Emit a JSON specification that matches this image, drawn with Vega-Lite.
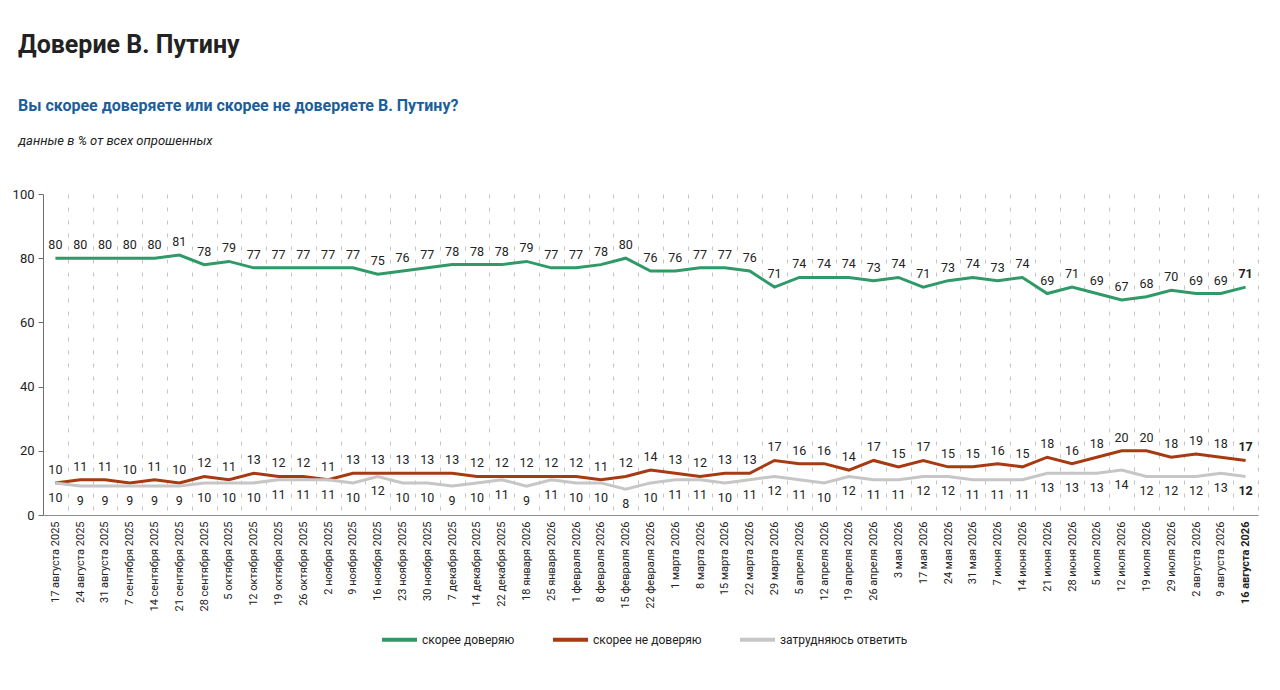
{
  "$schema": "https://vega.github.io/schema/vega-lite/v6.json",
  "autosize": {"type": "none"},
  "width": 1215,
  "height": 321,
  "padding": {"left": 43, "top": 194, "right": 22, "bottom": 175},
  "background": "white",
  "title": {
    "text": "Доверие В. Путину",
    "subtitle": "Вы скорее доверяете или скорее не доверяете В. Путину?",
    "anchor": "start",
    "frame": "group",
    "dx": -25,
    "offset": 20,
    "font": "Roboto, sans-serif",
    "fontSize": 25,
    "fontWeight": "bold",
    "color": "#222222",
    "subtitleFont": "Roboto, sans-serif",
    "subtitleFontSize": 16,
    "subtitleFontWeight": "bold",
    "subtitleColor": "#1b5e9c",
    "subtitlePadding": 40
  },
  "data": {
    "values": [
      {"date": "17 августа 2025", "скорее доверяю": 80, "скорее не доверяю": 10, "затрудняюсь ответить": 10},
      {"date": "24 августа 2025", "скорее доверяю": 80, "скорее не доверяю": 11, "затрудняюсь ответить": 9},
      {"date": "31 августа 2025", "скорее доверяю": 80, "скорее не доверяю": 11, "затрудняюсь ответить": 9},
      {"date": "7 сентября 2025", "скорее доверяю": 80, "скорее не доверяю": 10, "затрудняюсь ответить": 9},
      {"date": "14 сентября 2025", "скорее доверяю": 80, "скорее не доверяю": 11, "затрудняюсь ответить": 9},
      {"date": "21 сентября 2025", "скорее доверяю": 81, "скорее не доверяю": 10, "затрудняюсь ответить": 9},
      {"date": "28 сентября 2025", "скорее доверяю": 78, "скорее не доверяю": 12, "затрудняюсь ответить": 10},
      {"date": "5 октября 2025", "скорее доверяю": 79, "скорее не доверяю": 11, "затрудняюсь ответить": 10},
      {"date": "12 октября 2025", "скорее доверяю": 77, "скорее не доверяю": 13, "затрудняюсь ответить": 10},
      {"date": "19 октября 2025", "скорее доверяю": 77, "скорее не доверяю": 12, "затрудняюсь ответить": 11},
      {"date": "26 октября 2025", "скорее доверяю": 77, "скорее не доверяю": 12, "затрудняюсь ответить": 11},
      {"date": "2 ноября 2025", "скорее доверяю": 77, "скорее не доверяю": 11, "затрудняюсь ответить": 11},
      {"date": "9 ноября 2025", "скорее доверяю": 77, "скорее не доверяю": 13, "затрудняюсь ответить": 10},
      {"date": "16 ноября 2025", "скорее доверяю": 75, "скорее не доверяю": 13, "затрудняюсь ответить": 12},
      {"date": "23 ноября 2025", "скорее доверяю": 76, "скорее не доверяю": 13, "затрудняюсь ответить": 10},
      {"date": "30 ноября 2025", "скорее доверяю": 77, "скорее не доверяю": 13, "затрудняюсь ответить": 10},
      {"date": "7 декабря 2025", "скорее доверяю": 78, "скорее не доверяю": 13, "затрудняюсь ответить": 9},
      {"date": "14 декабря 2025", "скорее доверяю": 78, "скорее не доверяю": 12, "затрудняюсь ответить": 10},
      {"date": "22 декабря 2025", "скорее доверяю": 78, "скорее не доверяю": 12, "затрудняюсь ответить": 11},
      {"date": "18 января 2026", "скорее доверяю": 79, "скорее не доверяю": 12, "затрудняюсь ответить": 9},
      {"date": "25 января 2026", "скорее доверяю": 77, "скорее не доверяю": 12, "затрудняюсь ответить": 11},
      {"date": "1 февраля 2026", "скорее доверяю": 77, "скорее не доверяю": 12, "затрудняюсь ответить": 10},
      {"date": "8 февраля 2026", "скорее доверяю": 78, "скорее не доверяю": 11, "затрудняюсь ответить": 10},
      {"date": "15 февраля 2026", "скорее доверяю": 80, "скорее не доверяю": 12, "затрудняюсь ответить": 8},
      {"date": "22 февраля 2026", "скорее доверяю": 76, "скорее не доверяю": 14, "затрудняюсь ответить": 10},
      {"date": "1 марта 2026", "скорее доверяю": 76, "скорее не доверяю": 13, "затрудняюсь ответить": 11},
      {"date": "8 марта 2026", "скорее доверяю": 77, "скорее не доверяю": 12, "затрудняюсь ответить": 11},
      {"date": "15 марта 2026", "скорее доверяю": 77, "скорее не доверяю": 13, "затрудняюсь ответить": 10},
      {"date": "22 марта 2026", "скорее доверяю": 76, "скорее не доверяю": 13, "затрудняюсь ответить": 11},
      {"date": "29 марта 2026", "скорее доверяю": 71, "скорее не доверяю": 17, "затрудняюсь ответить": 12},
      {"date": "5 апреля 2026", "скорее доверяю": 74, "скорее не доверяю": 16, "затрудняюсь ответить": 11},
      {"date": "12 апреля 2026", "скорее доверяю": 74, "скорее не доверяю": 16, "затрудняюсь ответить": 10},
      {"date": "19 апреля 2026", "скорее доверяю": 74, "скорее не доверяю": 14, "затрудняюсь ответить": 12},
      {"date": "26 апреля 2026", "скорее доверяю": 73, "скорее не доверяю": 17, "затрудняюсь ответить": 11},
      {"date": "3 мая 2026", "скорее доверяю": 74, "скорее не доверяю": 15, "затрудняюсь ответить": 11},
      {"date": "17 мая 2026", "скорее доверяю": 71, "скорее не доверяю": 17, "затрудняюсь ответить": 12},
      {"date": "24 мая 2026", "скорее доверяю": 73, "скорее не доверяю": 15, "затрудняюсь ответить": 12},
      {"date": "31 мая 2026", "скорее доверяю": 74, "скорее не доверяю": 15, "затрудняюсь ответить": 11},
      {"date": "7 июня 2026", "скорее доверяю": 73, "скорее не доверяю": 16, "затрудняюсь ответить": 11},
      {"date": "14 июня 2026", "скорее доверяю": 74, "скорее не доверяю": 15, "затрудняюсь ответить": 11},
      {"date": "21 июня 2026", "скорее доверяю": 69, "скорее не доверяю": 18, "затрудняюсь ответить": 13},
      {"date": "28 июня 2026", "скорее доверяю": 71, "скорее не доверяю": 16, "затрудняюсь ответить": 13},
      {"date": "5 июля 2026", "скорее доверяю": 69, "скорее не доверяю": 18, "затрудняюсь ответить": 13},
      {"date": "12 июля 2026", "скорее доверяю": 67, "скорее не доверяю": 20, "затрудняюсь ответить": 14},
      {"date": "19 июля 2026", "скорее доверяю": 68, "скорее не доверяю": 20, "затрудняюсь ответить": 12},
      {"date": "29 июля 2026", "скорее доверяю": 70, "скорее не доверяю": 18, "затрудняюсь ответить": 12},
      {"date": "2 августа 2026", "скорее доверяю": 69, "скорее не доверяю": 19, "затрудняюсь ответить": 12},
      {"date": "9 августа 2026", "скорее доверяю": 69, "скорее не доверяю": 18, "затрудняюсь ответить": 13},
      {"date": "16 августа 2026", "скорее доверяю": 71, "скорее не доверяю": 17, "затрудняюсь ответить": 12}
    ]
  },
  "transform": [
    {"fold": ["скорее доверяю", "скорее не доверяю", "затрудняюсь ответить"], "as": ["series", "value"]}
  ],
  "encoding": {
    "x": {
      "field": "date",
      "type": "nominal",
      "sort": null,
      "scale": {"type": "band", "paddingInner": 0, "paddingOuter": 0},
      "axis": {
        "title": null,
        "labelAngle": -90,
        "labelFontSize": 11,
        "labelColor": "#222222",
        "labelPadding": 6,
        "labelFontWeight": {"condition": {"test": "datum.value == '16 августа 2026'", "value": "bold"}, "value": "normal"},
        "ticks": false,
        "domainColor": "#8c8c8c",
        "tickBand": "extent",
        "grid": true,
        "gridColor": "#c4c4c4",
        "gridDash": [4, 9],
        "gridWidth": 1
      }
    },
    "y": {
      "field": "value",
      "type": "quantitative",
      "scale": {"domain": [0, 100]},
      "axis": {
        "values": [0, 20, 40, 60, 80, 100],
        "grid": false,
        "labelFontSize": 13,
        "labelColor": "#222222",
        "labelPadding": 4,
        "tickSize": 5,
        "tickColor": "#6e6e6e",
        "domainColor": "#6e6e6e",
        "title": "данные в % от всех опрошенных",
        "titleAngle": 0,
        "titleAlign": "left",
        "titleBaseline": "middle",
        "titleX": -25,
        "titleY": -54,
        "titleFontSize": 13,
        "titleFontStyle": "italic",
        "titleFontWeight": "normal",
        "titleColor": "#222222"
      }
    }
  },
  "layer": [
    {
      "mark": {"type": "line", "strokeWidth": 3},
      "encoding": {
        "color": {
          "field": "series",
          "type": "nominal",
          "scale": {
            "domain": ["скорее доверяю", "скорее не доверяю", "затрудняюсь ответить"],
            "range": ["#2f9a67", "#a63b12", "#c6c6c6"]
          },
          "legend": {
            "title": null,
            "orient": "none",
            "legendX": 337,
            "legendY": 426,
            "direction": "horizontal",
            "symbolType": "stroke",
            "symbolSize": 1225,
            "symbolStrokeWidth": 4,
            "labelFontSize": 12,
            "labelColor": "#222222",
            "labelOffset": 3,
            "columnPadding": 30
          }
        }
      }
    },
    {
      "transform": [{"filter": "datum.series != 'затрудняюсь ответить'"}],
      "mark": {
        "type": "text",
        "dy": -13,
        "fontSize": 12.5,
        "color": "#222222",
        "fontWeight": {"expr": "datum.date == '16 августа 2026' ? 'bold' : 'normal'"}
      },
      "encoding": {"text": {"field": "value", "type": "quantitative"}}
    },
    {
      "transform": [{"filter": "datum.series == 'затрудняюсь ответить'"}],
      "mark": {
        "type": "text",
        "dy": 15,
        "fontSize": 12.5,
        "color": "#222222",
        "fontWeight": {"expr": "datum.date == '16 августа 2026' ? 'bold' : 'normal'"}
      },
      "encoding": {"text": {"field": "value", "type": "quantitative"}}
    }
  ],
  "config": {
    "font": "Roboto, sans-serif",
    "view": {"stroke": null}
  }
}
